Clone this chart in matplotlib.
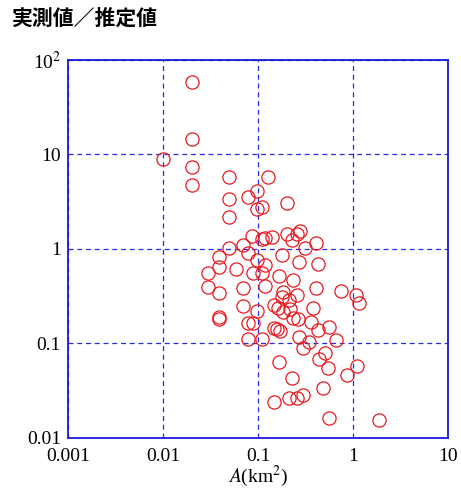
import matplotlib
matplotlib.use("Agg")
import matplotlib.pyplot as plt
from matplotlib.ticker import FixedLocator, NullLocator

plt.rcParams["mathtext.fontset"] = "stix"

# catchment area A (km2) and ratio measured / estimated
area = [
    0.020, 0.020, 0.010, 0.020, 0.020, 0.050, 0.127, 0.050, 0.079, 0.098,
    0.098, 0.110, 0.202, 0.050, 0.087, 0.110, 0.119, 0.140, 0.202, 0.228,
    0.258, 0.277, 0.313, 0.408, 0.050, 0.070, 0.079, 0.039, 0.039, 0.030,
    0.059, 0.098, 0.119, 0.089, 0.110, 0.179, 0.270, 0.429, 0.166, 0.233,
    0.030, 0.039, 0.070, 0.119, 0.183, 0.258, 0.179, 0.408, 0.748, 1.08,
    1.16, 0.070, 0.098, 0.147, 0.163, 0.183, 0.212, 0.217, 0.233, 0.264,
    0.039, 0.039, 0.079, 0.089, 0.147, 0.171, 0.158, 0.379, 0.361, 0.429,
    0.558, 0.079, 0.110, 0.270, 0.344, 0.662, 0.298, 0.507, 0.439, 0.546,
    1.10, 0.865, 0.166, 0.228, 0.483, 0.147, 0.212, 0.258, 0.298, 0.558,
    1.88,
]
ratio = [
    58.0, 14.6, 9.0, 7.4, 4.8, 5.8, 5.8, 3.4, 3.55, 4.1,
    2.65, 2.8, 3.07, 2.18, 1.37, 1.28, 1.31, 1.34, 1.44, 1.25,
    1.44, 1.55, 1.03, 1.16, 1.03, 1.10, 0.91, 0.82, 0.645, 0.557,
    0.614, 0.765, 0.678, 0.557, 0.557, 0.865, 0.728, 0.694, 0.518, 0.470,
    0.396, 0.342, 0.386, 0.406, 0.351, 0.326, 0.310, 0.386, 0.360, 0.326,
    0.268, 0.249, 0.221, 0.256, 0.238, 0.215, 0.288, 0.232, 0.186, 0.182,
    0.191, 0.182, 0.165, 0.165, 0.146, 0.136, 0.142, 0.238, 0.169, 0.139,
    0.150, 0.112, 0.112, 0.117, 0.104, 0.109, 0.0896, 0.0793, 0.0686, 0.0551,
    0.0578, 0.0464, 0.0637, 0.0432, 0.0338, 0.0240, 0.0265, 0.0265, 0.0285, 0.0163,
    0.0155,
]

x_ticks = [0.001, 0.01, 0.1, 1, 10]
x_labels = ["0.001", "0.01", "0.1", "1", "10"]
y_ticks = [0.01, 0.1, 1, 10, 100]
y_labels = ["0.01", "0.1", "1", "10", "10$^2$"]

fig = plt.figure(figsize=(4.61, 4.91), dpi=100)
ax = fig.add_axes([0.1475, 0.108, 0.8243, 0.770])

ax.plot(area, ratio, linestyle="none", marker="o", markersize=9.5,
        markerfacecolor="none", markeredgecolor="#e8191e", markeredgewidth=0.9)

ax.set_xscale("log")
ax.set_yscale("log")
ax.set_xlim(0.001, 10)
ax.set_ylim(0.01, 100)

ax.xaxis.set_major_locator(FixedLocator(x_ticks))
ax.yaxis.set_major_locator(FixedLocator(y_ticks))
ax.xaxis.set_minor_locator(NullLocator())
ax.yaxis.set_minor_locator(NullLocator())
ax.set_xticklabels(x_labels, family="Liberation Serif", fontsize=14)
ax.set_yticklabels(y_labels, family="Liberation Serif", fontsize=14)
ax.tick_params(axis="x", length=0, pad=7)
ax.tick_params(axis="y", length=0, pad=5)

ax.grid(True, color="#2a2ae0", linestyle=(0, (4, 3)), linewidth=0.9)
for s in ax.spines.values():
    s.set_color("#1a1ad8")
    s.set_linewidth(1.3)

ax.set_xlabel("$A$(km$^2$)", family="Liberation Serif", fontsize=14, labelpad=-1)

fig.text(0.025, 0.962, "実測値／推定値", family=["Noto Sans CJK JP", "DejaVu Sans"],
         fontsize=15, fontweight="bold", va="center", ha="left")

fig.savefig("out.png", dpi=100)
